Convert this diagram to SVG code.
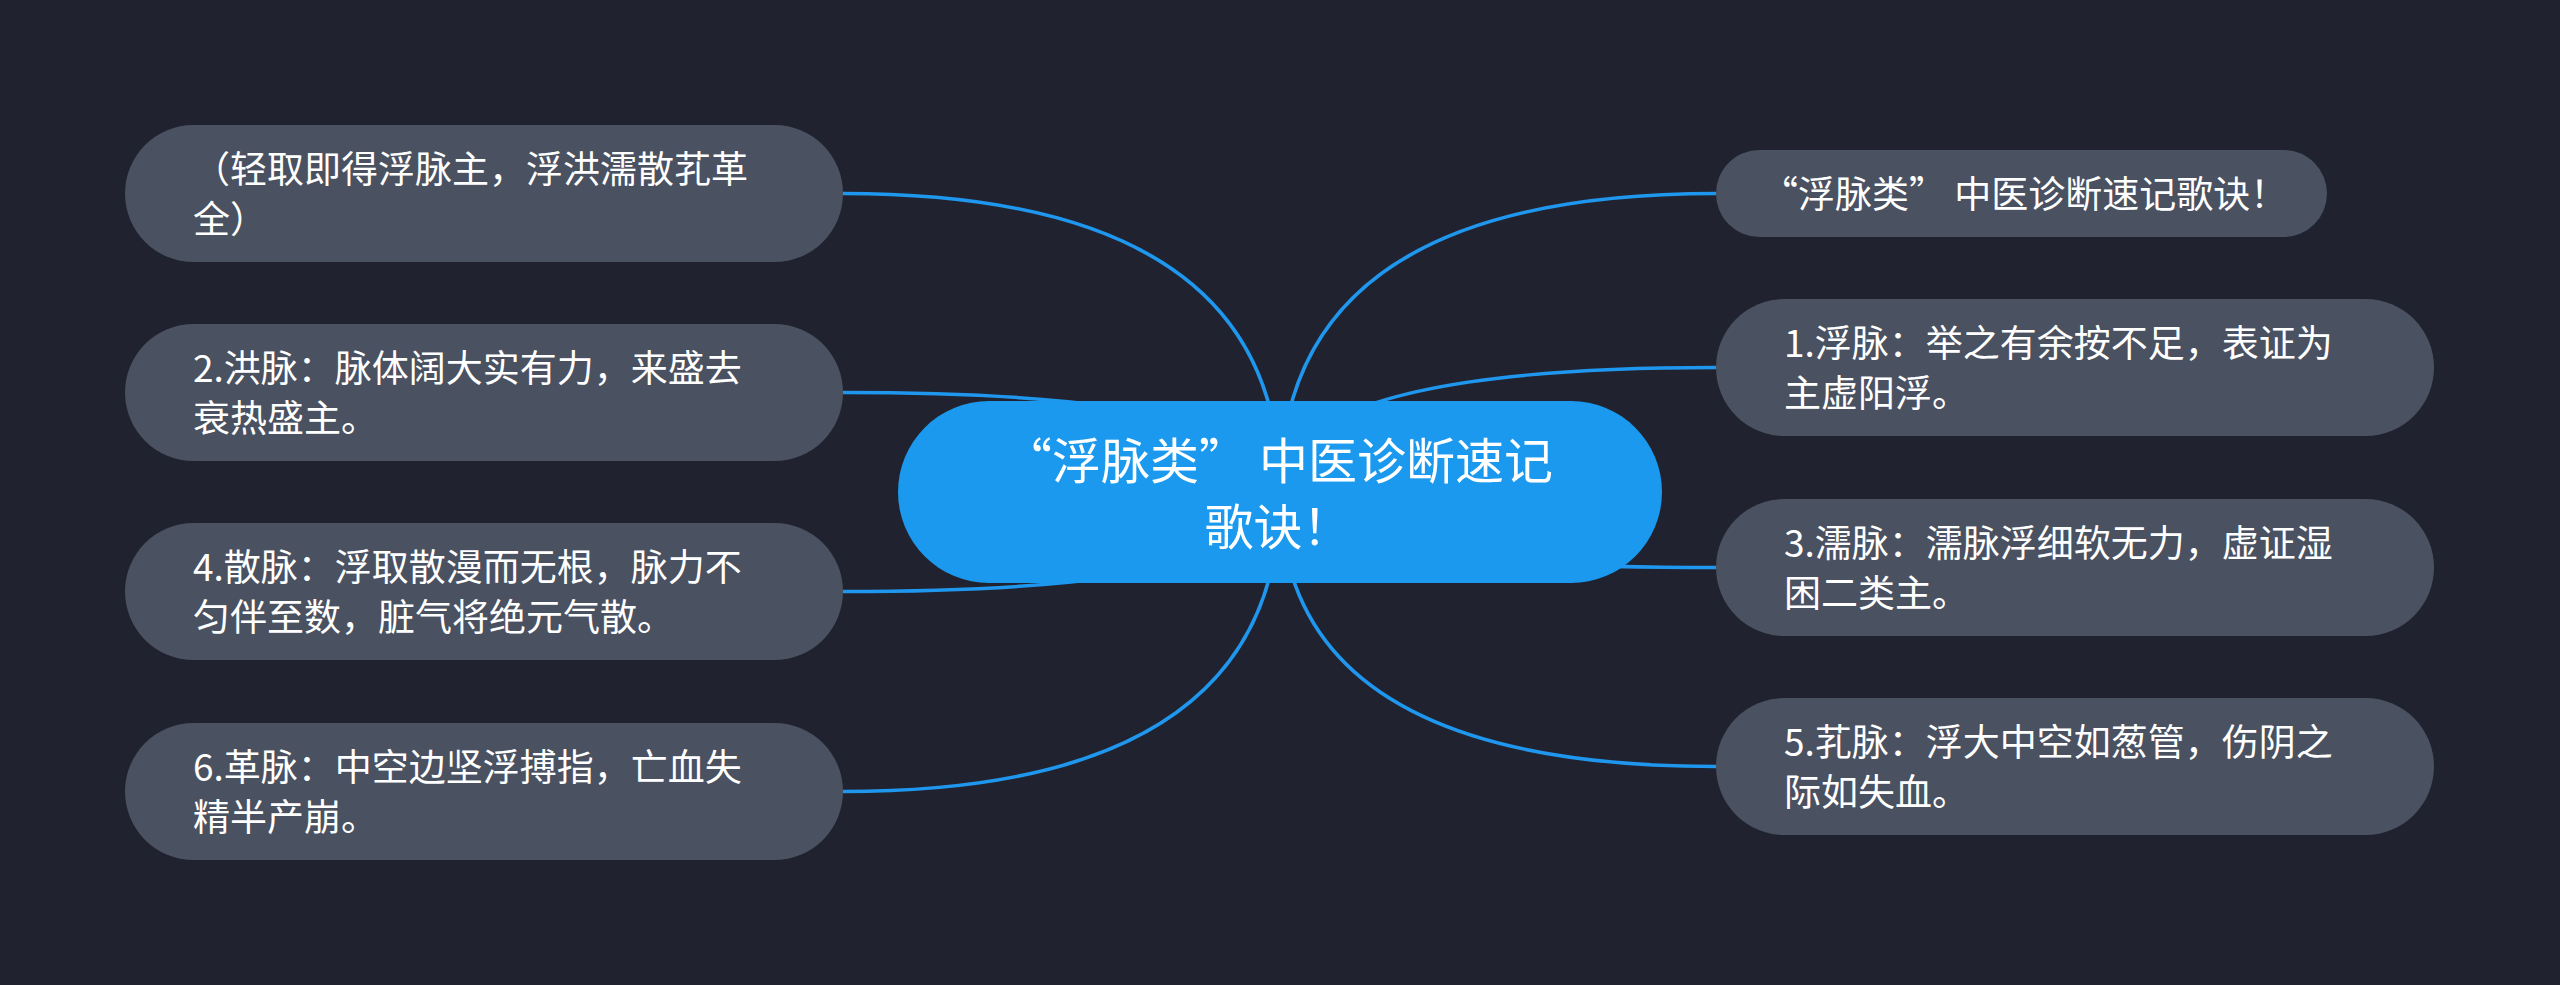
<svg xmlns="http://www.w3.org/2000/svg" width="2560" height="985" viewBox="0 0 2560 985">
<style>
.bg{fill:#20232f}
.node{fill:#4a5161}
.root{fill:#1a99ef}
.t{fill:#ffffff;font-family:"Noto Sans CJK SC","Noto Sans",sans-serif;font-size:37px}
.rt{fill:#ffffff;font-family:"Noto Sans CJK SC","Noto Sans",sans-serif;font-size:49px;text-anchor:middle}
.c{fill:none;stroke:#1f97ee;stroke-width:3.5}
</style>
<rect class="bg" x="0" y="0" width="2560" height="985"/>
<g id="connectors">
<path class="c" d="M1280 492 Q1280 193.5 843 193.5"/>
<path class="c" d="M1280 492 Q1280 392.5 843 392.5"/>
<path class="c" d="M1280 492 Q1280 591.5 843 591.5"/>
<path class="c" d="M1280 492 Q1280 791.5 843 791.5"/>
<path class="c" d="M1280 492 Q1280 193.5 1716 193.5"/>
<path class="c" d="M1280 492 Q1280 367.5 1716 367.5"/>
<path class="c" d="M1280 492 Q1280 567.5 1716 567.5"/>
<path class="c" d="M1280 492 Q1280 766.5 1716 766.5"/>
</g>
<g id="root">
<rect class="root" x="898" y="401" width="764" height="182" rx="91"/>
<text class="rt" x="1278" y="478.6">“浮脉类” 中医诊断速记</text>
<text class="rt" x="1278" y="544.6">歌诀！</text>
</g>
<g id="L1">
<rect class="node" x="125" y="125" width="718" height="137" rx="68.5"/>
<text class="t" x="193" y="182.5">（轻取即得浮脉主，浮洪濡散芤革</text>
<text class="t" x="193" y="232.5">全）</text>
</g>
<g id="L2">
<rect class="node" x="125" y="324" width="718" height="137" rx="68.5"/>
<text class="t" x="193" y="381.5">2.洪脉：脉体阔大实有力，来盛去</text>
<text class="t" x="193" y="431.5">衰热盛主。</text>
</g>
<g id="L3">
<rect class="node" x="125" y="523" width="718" height="137" rx="68.5"/>
<text class="t" x="193" y="580.5">4.散脉：浮取散漫而无根，脉力不</text>
<text class="t" x="193" y="630.5">匀伴至数，脏气将绝元气散。</text>
</g>
<g id="L4">
<rect class="node" x="125" y="723" width="718" height="137" rx="68.5"/>
<text class="t" x="193" y="780.5">6.革脉：中空边坚浮搏指，亡血失</text>
<text class="t" x="193" y="830.5">精半产崩。</text>
</g>
<g id="R0">
<rect class="node" x="1716" y="150" width="611" height="87" rx="43.5"/>
<text class="t" x="1761" y="207.5">“浮脉类” 中医诊断速记歌诀！</text>
</g>
<g id="R1">
<rect class="node" x="1716" y="299" width="718" height="137" rx="68.5"/>
<text class="t" x="1784" y="356.5">1.浮脉：举之有余按不足，表证为</text>
<text class="t" x="1784" y="406.5">主虚阳浮。</text>
</g>
<g id="R2">
<rect class="node" x="1716" y="499" width="718" height="137" rx="68.5"/>
<text class="t" x="1784" y="556.5">3.濡脉：濡脉浮细软无力，虚证湿</text>
<text class="t" x="1784" y="606.5">困二类主。</text>
</g>
<g id="R3">
<rect class="node" x="1716" y="698" width="718" height="137" rx="68.5"/>
<text class="t" x="1784" y="755.5">5.芤脉：浮大中空如葱管，伤阴之</text>
<text class="t" x="1784" y="805.5">际如失血。</text>
</g>
</svg>
